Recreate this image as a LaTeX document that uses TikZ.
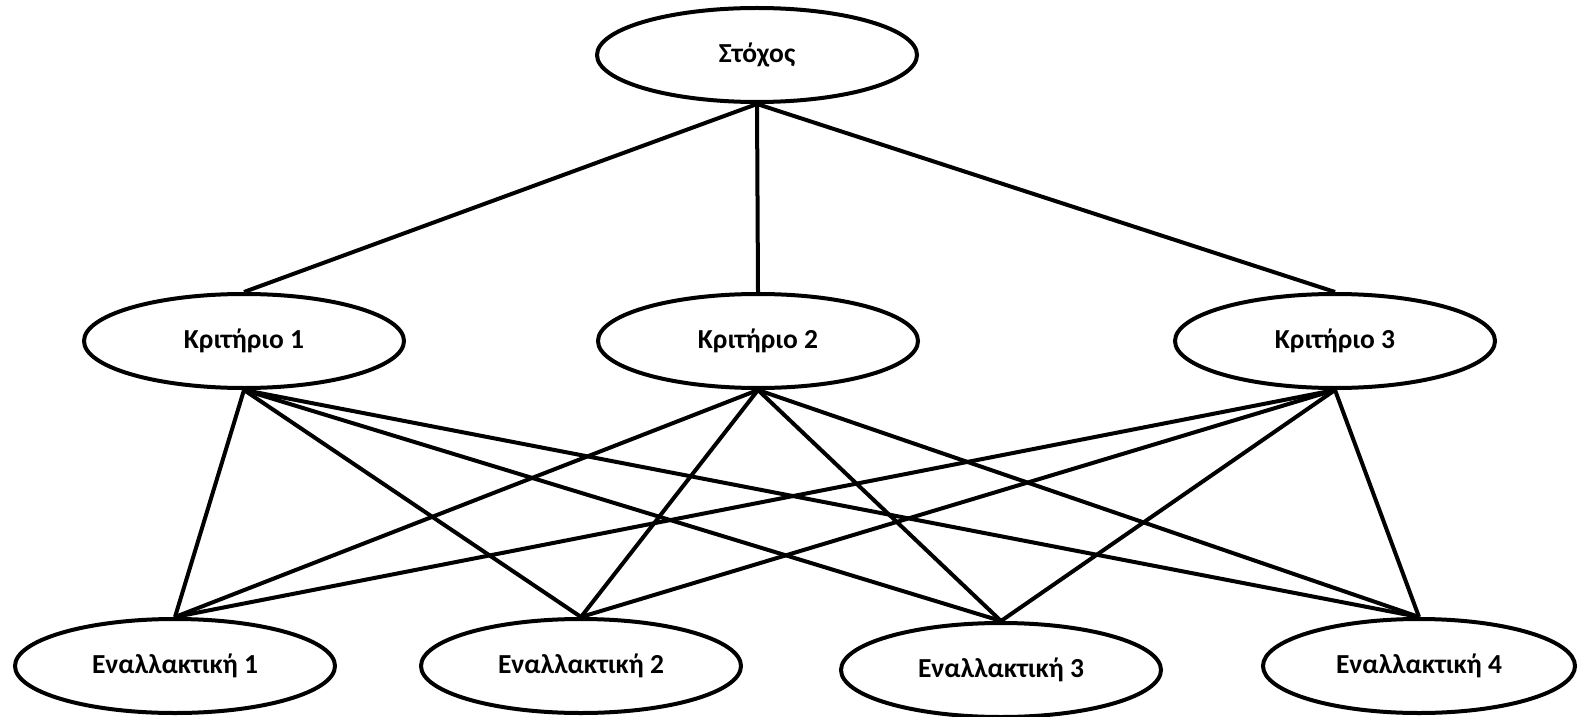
\documentclass[tikz,border=0pt]{standalone}
\usepackage{fontspec}
\setmainfont{Carlito}
\usetikzlibrary{shapes.geometric}
\begin{document}
\begin{tikzpicture}[
			x=1pt, y=1pt,
			line width=4pt,
			choice/.style={ellipse,draw,fill=white,minimum width=320pt,minimum height=94pt,inner sep=0pt,
				font=\fontsize{27.5}{32}\selectfont\bfseries}
		]
		\useasboundingbox (0,0) rectangle (1578,716);
		\node[choice] (goal) at (757,661) {Στόχος};
		\node[choice] (crit1) at (244,375) {Κριτήριο 1};
		\node[choice] (crit2) at (758,375) {Κριτήριο 2};
		\node[choice] (crit3) at (1335,375) {Κριτήριο 3};
		\node[choice] (alt1) at (175,50) {Εναλλακτική 1};
		\node[choice] (alt2) at (581,50) {Εναλλακτική 2};
		\node[choice] (alt3) at (1001,46) {Εναλλακτική 3};
		\node[choice, minimum width=312pt] (alt4) at (1419,50) {Εναλλακτική 4};
		\foreach \c in {crit1,crit2,crit3} {
				\draw (goal.south) -- (\c.north);
				\foreach \a in {alt1,alt2,alt3,alt4}
					\draw (\c.south) -- (\a.north);
			}
	\end{tikzpicture}
\end{document}
